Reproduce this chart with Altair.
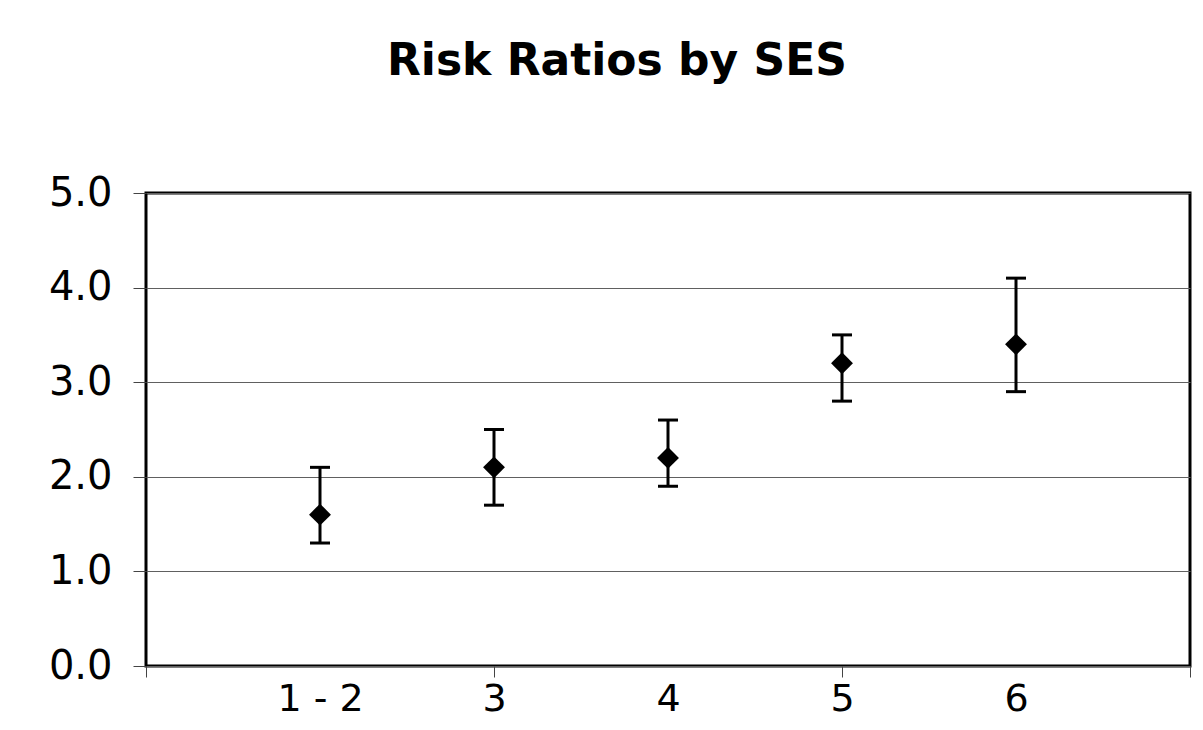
import altair as alt
import pandas as pd

categories = ["1 - 2", "3", "4", "5", "6"]
positions = [1, 2, 3, 4, 5]
risk_ratio = [1.6, 2.1, 2.2, 3.2, 3.4]
lower_ci = [1.3, 1.7, 1.9, 2.8, 2.9]
upper_ci = [2.1, 2.5, 2.6, 3.5, 4.1]
y_ticks = [0, 1, 2, 3, 4, 5]
x_ticks = [0, 1, 2, 3, 4, 5, 6]

df = pd.DataFrame({"pos": positions, "cat": categories, "rr": risk_ratio,
                   "lo": lower_ci, "hi": upper_ci})

label_array = "[" + ",".join("'%s'" % c for c in categories) + "]"
label_expr = label_array + "[datum.value - 1] || ''"

x_scale = alt.Scale(domain=[0, 6], nice=False, zero=False)
y_scale = alt.Scale(domain=[0, 5], nice=False)

x_axis = alt.Axis(
    values=x_ticks, labelExpr=label_expr, title=None, domain=False, grid=False,
    tickSize=11, tickColor="#444444", tickWidth=1,
    tickOpacity={"condition": {"test": "datum.value % 2 === 0", "value": 1}, "value": 0},
    labelFontSize=38, labelFont="DejaVu Sans", labelColor="black", labelPadding=3,
    labelOverlap=False, labelBound=False, labelFlush=False)

y_axis = alt.Axis(
    values=y_ticks, format=".1f", title=None, domain=False, grid=True,
    gridColor="#606060", gridWidth=1, tickSize=13, tickColor="#444444", tickWidth=1,
    labelFontSize=40, labelFont="DejaVu Sans", labelColor="black", labelPadding=21)

base = alt.Chart(df)

rules = base.mark_rule(color="black", strokeWidth=3).encode(
    x=alt.X("pos:Q", scale=x_scale, axis=x_axis),
    y=alt.Y("lo:Q", scale=y_scale, axis=y_axis),
    y2="hi:Q")

caps_hi = base.mark_tick(color="black", orient="horizontal", size=20,
                         thickness=3, opacity=1).encode(x="pos:Q", y="hi:Q")
caps_lo = base.mark_tick(color="black", orient="horizontal", size=20,
                         thickness=3, opacity=1).encode(x="pos:Q", y="lo:Q")

points = base.mark_point(shape="diamond", filled=True, size=480, color="black",
                         opacity=1).encode(x="pos:Q", y="rr:Q")

chart = alt.layer(rules, caps_hi, caps_lo, points).properties(
    width=1044, height=473,
    title=alt.TitleParams("Risk Ratios by SES", font="DejaVu Sans", fontSize=44,
                          fontWeight="bold", color="black", anchor="middle",
                          dx=-51, offset=89),
    padding={"left": 138, "top": 185, "right": 5, "bottom": 64},
    autosize=alt.AutoSizeParams(type="none"),
    background="white",
).configure_view(stroke="black", strokeWidth=3)

chart.save("out.html", embed_options={"renderer": "svg", "actions": False})
